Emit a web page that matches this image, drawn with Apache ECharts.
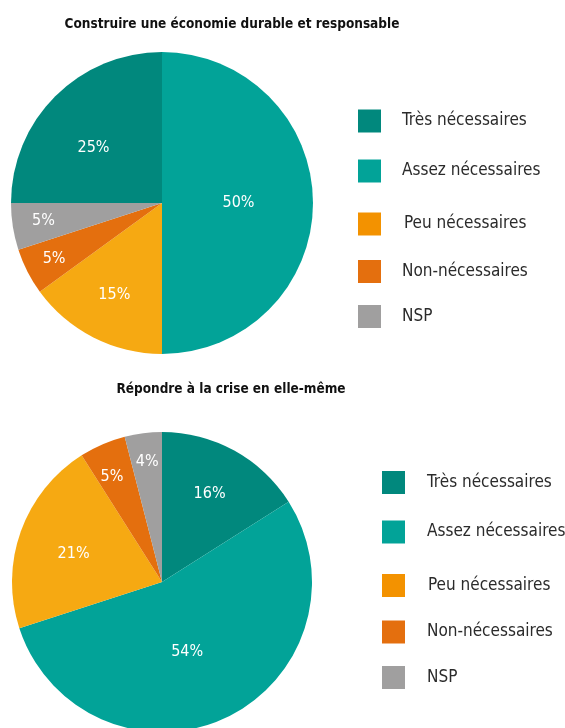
<!DOCTYPE html>
<html><head><meta charset="utf-8">
<script src="https://cdn.jsdelivr.net/npm/echarts@6/dist/echarts.min.js"></script>
<style>html,body{margin:0;padding:0;background:#fff}#c{width:565px;height:728px}</style>
</head><body><div id="c"></div>
<script>
const categories = ['Très nécessaires', 'Assez nécessaires', 'Peu nécessaires', 'Non-nécessaires', 'NSP'];
const economieValues = [25, 50, 15, 5, 5];
const criseValues = [16, 54, 21, 5, 4];
const titles = ['Construire une économie durable et responsable', 'Répondre à la crise en elle-même'];

const colors = ['#01887D', '#02A398', '#F6A912', '#E46F0E', '#A09F9F'];
const legendColors = ['#01887D', '#02A398', '#F39200', '#E46F0E', '#A09F9F'];
const FONT = '"Liberation Sans Narrow", "DejaVu Sans Condensed", sans-serif';
// label nudges (style only)
const labelNudge = [
  [[-13,0],[-2,0],[-12,22],[-38,20],[-41,6]],
  [[10,-20],[-8,-1],[-15,-2],[-19,-34],[-5,-43]]
];
const legendTops = [[121,171,224,271.5,316.5],[482.5,532,585.5,632,677.5]];
const legendLefts = [358, 382];
const legendPad = [[21,21,23,21,21],[22,22,23,22,22]];

const chart = echarts.init(document.getElementById('c'), null, {renderer:'canvas'});
const legends = [];
[0,1].forEach(p => {
  categories.forEach((name, i) => {
    legends.push({
      left: legendLefts[p], top: legendTops[p][i] - 11.5, padding: 0,
      orient: 'vertical', icon: 'rect', itemWidth: 23, itemHeight: 23,
      data: [{name: name, itemStyle: {color: legendColors[i]}}],
      selectedMode: false,
      textStyle: {fontFamily: FONT, fontSize: 17, color: '#2b2b2b', padding: [0,0,0,legendPad[p][i]-5]}
    });
  });
});

function makeData(vals){ return categories.map((n,i)=>({name:n, value:vals[i], itemStyle:{color:colors[i]}})); }

const labelStyle = {show:true, position:'inside', formatter:'{c}%', color:'#fff', fontFamily:FONT, fontSize:16};

const option = {
  animation: false,
  title: [
    {text: titles[0], left: 227, top: 12, textAlign: 'center', textStyle:{fontFamily: FONT, fontWeight:'bold', fontSize:13.5, color:'#111'}},
    {text: titles[1], left: 226, top: 377, textAlign: 'center', textStyle:{fontFamily: FONT, fontWeight:'bold', fontSize:13.5, color:'#111'}}
  ],
  legend: legends,
  series: [
    {type:'pie', center:[162,203], radius:151, startAngle:180, clockwise:true,
     data: makeData(economieValues),
     label: labelStyle, labelLine:{show:false}, emphasis:{disabled:true},
     labelLayout: function(pr){ const o = labelNudge[0][pr.dataIndex]; return {dx:o[0], dy:o[1]}; }
    },
    {type:'pie', center:[162,582], radius:150, startAngle:90, clockwise:true,
     data: makeData(criseValues),
     label: labelStyle, labelLine:{show:false}, emphasis:{disabled:true},
     labelLayout: function(pr){ const o = labelNudge[1][pr.dataIndex]; return {dx:o[0], dy:o[1]}; }
    }
  ]
};
chart.setOption(option);
</script></body></html>
